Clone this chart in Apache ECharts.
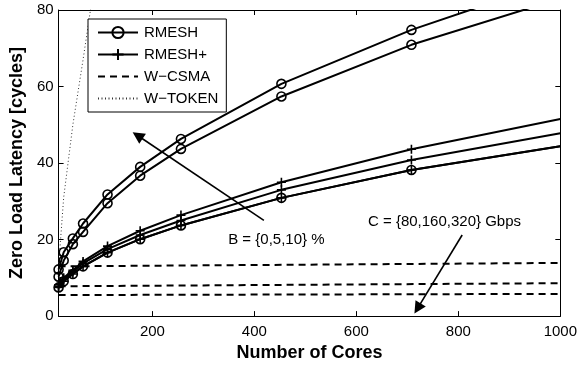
<!DOCTYPE html>
<html>
<head>
<meta charset="utf-8">
<script src="https://cdn.jsdelivr.net/npm/echarts@6/dist/echarts.min.js"></script>
<style>
html, body { margin: 0; padding: 0; background: #fff; }
#main { width: 580px; height: 367px; }
</style>
</head>
<body>
<div id="main"></div>
<script>
// number of cores where the curves were sampled
var cores = [16, 26, 44, 64, 112, 176, 256, 453, 708, 1000];
var xTicks = [200, 400, 600, 800, 1000];

// RMESH, B = 0 / 5 / 10 %
var rmeshB0 = [7.5, 9.1, 11.0, 13.0, 16.6, 20.1, 23.7, 30.9, 38.2, 44.4];
var rmeshB5 = [10.3, 14.5, 18.8, 22.0, 29.5, 36.7, 43.7, 57.4, 70.9, 83];
var rmeshB10 = [12.2, 16.7, 20.3, 24.2, 31.8, 39.0, 46.3, 60.7, 74.8, 88];

// RMESH+, B = 0 / 5 / 10 %
var rplusB0 = [7.5, 9.1, 11.0, 13.0, 16.6, 20.1, 23.7, 30.9, 38.2, 44.4];
var rplusB5 = [7.8, 9.6, 11.6, 13.8, 17.5, 21.2, 25.0, 33.0, 40.8, 47.8];
var rplusB10 = [8.2, 10.0, 12.0, 14.3, 18.3, 22.3, 26.4, 35.0, 43.6, 51.5];

// W-CSMA, C = 80 / 160 / 320 Gbps (end points)
var csmaCores = [16, 1000];
var csmaC80 = [13.0, 13.9];
var csmaC160 = [7.8, 8.6];
var csmaC320 = [5.5, 5.8];

// W-TOKEN
var tokenCores = [16, 26, 44, 64, 112];
var token = [13, 31, 50, 67, 110];

var chart = echarts.init(document.getElementById('main'));

var plusPath = 'path://M0,-5 L0,5 M-5,0 L5,0';

function pts(xs, ys, lastPlain) {
	var out = [];
	for (var i = 0; i < xs.length; i++) {
		var item = { value: [xs[i], ys[i]] };
		if (lastPlain && i === xs.length - 1) item.symbol = 'none';
		out.push(item);
	}
	return out;
}

function markedLine(name, ys, sym, size) {
	return {
		name: name,
		type: 'line',
		data: pts(cores, ys, true),
		symbol: sym,
		symbolSize: size,
		showAllSymbol: true,
		clip: true,
		lineStyle: { color: '#000', width: 2 },
		itemStyle: { color: 'rgba(0,0,0,0)', borderColor: '#000', borderWidth: 1.6 },
		emphasis: { disabled: true },
		z: 3
	};
}

function dashLine(name, ys) {
	return {
		name: name,
		type: 'line',
		data: pts(csmaCores, ys, false),
		symbol: 'none',
		lineStyle: { color: '#000', width: 2, type: [7, 5] },
		itemStyle: { color: '#000' },
		emphasis: { disabled: true },
		z: 2
	};
}

var option = {
	animation: false,
	backgroundColor: '#fff',
	textStyle: { fontFamily: 'Liberation Sans' },
	grid: { left: 56, right: 18, top: 10, bottom: 44 },
	legend: {
		orient: 'vertical',
		left: 88,
		top: 19,
		padding: [6, 8, 6, 9],
		itemGap: 7,
		itemWidth: 40,
		itemHeight: 14,
		backgroundColor: '#fff',
		borderColor: '#000',
		borderWidth: 1,
		borderRadius: 0,
		selectedMode: false,
		textStyle: { fontSize: 15, color: '#000', fontFamily: 'Liberation Sans', lineHeight: 14, padding: [0, 0, 0, 1] },
		data: [
			'RMESH',
			'RMESH+',
			{ name: 'W\u2212CSMA', itemStyle: { opacity: 0 } },
			{ name: 'W\u2212TOKEN', itemStyle: { opacity: 0 } }
		]
	},
	xAxis: [{
		type: 'value',
		min: 16,
		max: 1000,
		name: 'Number of Cores',
		nameLocation: 'middle',
		nameGap: 23,
		nameTextStyle: { fontSize: 18, fontWeight: 'bold', color: '#000', fontFamily: 'Liberation Sans' },
		axisLine: { onZero: false, lineStyle: { color: '#000', width: 1 } },
		axisTick: { inside: true, length: 5, customValues: xTicks, lineStyle: { color: '#000' } },
		axisLabel: {
			customValues: xTicks, fontSize: 15, color: '#000', margin: 8, fontFamily: 'Liberation Sans',
			formatter: function (v) { return String(v); }
		},
		splitLine: { show: false }
	}, {
		type: 'value',
		position: 'top',
		min: 16,
		max: 1000,
		axisLine: { onZero: false, lineStyle: { color: '#000', width: 1 } },
		axisTick: { inside: true, length: 5, customValues: xTicks, lineStyle: { color: '#000' } },
		axisLabel: { show: false },
		splitLine: { show: false }
	}],
	yAxis: [{
		type: 'value',
		min: 0,
		max: 80,
		interval: 20,
		name: 'Zero Load Latency [cycles]',
		nameLocation: 'middle',
		nameGap: 29,
		nameTextStyle: { fontSize: 18, fontWeight: 'bold', color: '#000', fontFamily: 'Liberation Sans' },
		axisLine: { show: true, onZero: false, lineStyle: { color: '#000', width: 1 } },
		axisTick: { show: true, inside: true, length: 5, lineStyle: { color: '#000' } },
		axisLabel: { fontSize: 15, color: '#000', margin: 5, fontFamily: 'Liberation Sans' },
		splitLine: { show: false }
	}, {
		type: 'value',
		position: 'right',
		min: 0,
		max: 80,
		interval: 20,
		axisLine: { show: true, onZero: false, lineStyle: { color: '#000', width: 1 } },
		axisTick: { show: true, inside: true, length: 5, lineStyle: { color: '#000' } },
		axisLabel: { show: false },
		splitLine: { show: false }
	}],
	series: [
		markedLine('RMESH', rmeshB10, 'circle', 9),
		markedLine('RMESH', rmeshB5, 'circle', 9),
		markedLine('RMESH', rmeshB0, 'circle', 9),
		markedLine('RMESH+', rplusB10, plusPath, 9),
		markedLine('RMESH+', rplusB5, plusPath, 9),
		markedLine('RMESH+', rplusB0, plusPath, 9),
		dashLine('W\u2212CSMA', csmaC80),
		dashLine('W\u2212CSMA', csmaC160),
		dashLine('W\u2212CSMA', csmaC320),
		{
			name: 'W\u2212TOKEN',
			type: 'line',
			data: pts(tokenCores, token, false),
			symbol: 'none',
			clip: true,
			lineStyle: { color: '#333', width: 1, type: [1, 2.5] },
			itemStyle: { color: '#333' },
			emphasis: { disabled: true },
			z: 1
		},
		{
			name: 'notes',
			type: 'line',
			data: [],
			silent: true,
			markLine: {
				silent: true,
				symbol: ['none', 'triangle'],
				symbolSize: 12,
				label: { show: false },
				lineStyle: { color: '#000', width: 1.6, type: 'solid' },
				itemStyle: { color: '#000' },
				emphasis: { disabled: true },
				data: [
					[{ coord: [418.6, 25.0] }, { coord: [171, 47.2] }],
					[{ coord: [807.5, 21.2] }, { coord: [720, 2.0] }]
				]
			},
			markPoint: {
				silent: true,
				symbol: 'circle',
				symbolSize: 0,
				label: { show: true, position: 'right', distance: 0, fontSize: 15, color: '#000', fontFamily: 'Liberation Sans' },
				data: [
					{ coord: [348.6, 19.8], label: { formatter: 'B = {0,5,10} %' } },
					{ coord: [622.8, 24.5], label: { formatter: 'C = {80,160,320} Gbps' } }
				]
			}
		}
	]
};

chart.setOption(option);
</script>
</body>
</html>
